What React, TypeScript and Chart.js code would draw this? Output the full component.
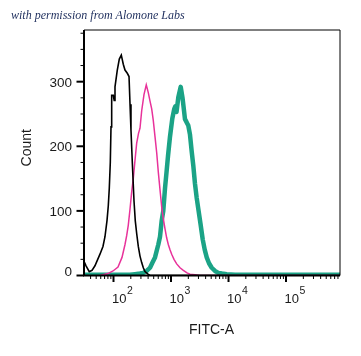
import React, { useEffect, useRef } from "react";
import { Chart, registerables } from "chart.js";

Chart.register(...registerables);

// ---- data ----
const X_MIN = 30.7;
const X_MAX = 868000;
const Y_MIN = 0;
const Y_MAX = 380;
const Y_TICK_STEP = 25;
const Y_LABELS = [0, 100, 200, 300];
const X_DECADES = [2, 3, 4, 5];

const blackX = [30.7, 33.3, 37.9, 42.3, 47.6, 58.2, 65.6, 71.1, 77.1, 81.2, 84.5, 88.0, 90.5, 93.0, 99.2, 102.8, 106.2, 116.4, 126.2, 136.7, 148.0, 158.5, 173.8, 186.2, 193.8, 201.4, 212.4, 227.5, 239, 253, 270, 289, 309, 330, 353, 398, 431.5, 868000];
const blackY = [22, 15, 6, 8, 15, 33, 45, 60, 85, 108, 135, 175, 230, 279, 279, 271, 292, 318, 335, 341, 327, 318, 313, 308, 265, 225, 175, 115, 85, 65, 45, 30, 20, 12, 6, 2, 0, 0];

const pinkX = [58.2, 80.2, 98.0, 119.8, 140.6, 158.5, 169.8, 180.9, 193.8, 207.5, 220.8, 236.4, 253, 272.2, 289, 309.2, 339, 371.5, 402.7, 431.5, 461.6, 491.7, 526.9, 564, 601.6, 643.6, 689, 734.6, 786.6, 841.7, 897.4, 961, 1028, 1127, 1256, 1435, 1638, 1897, 2139, 2612, 3191, 868000];
const pinkY = [0, 3, 7, 13, 28, 48, 62, 78, 103, 130, 150, 178, 205, 220, 228, 255, 280, 295, 283, 270, 258, 240, 215, 190, 160, 133, 106, 88, 72, 58, 48, 40, 33, 25, 18, 12, 8, 4, 2, 1, 0, 0];

const greenX = [30.7, 58.2, 129.7, 193.8, 236.4, 289, 329.7, 377.6, 431.5, 476.6, 526.9, 601.6, 643.6, 689, 734.6, 786.6, 836, 887, 961, 1054, 1141, 1188, 1247, 1340, 1475, 1585, 1649, 1750, 1874, 1999, 2139, 2290, 2443, 2612, 2798, 2985, 3259, 3558, 3856, 4178, 4581, 5105, 5823, 6647, 7712, 9311, 12970, 868000];
const greenY = [1, 1, 1, 1, 2, 3, 4, 7, 12, 20, 28, 48, 60, 85, 100, 135, 160, 185, 215, 243, 258, 262, 253, 276, 292, 275, 262, 242, 237, 232, 218, 192, 170, 142, 120, 103, 80, 56, 40, 28, 19, 12, 7, 4, 3, 2, 1, 1];

const TITLE = "with permission from Alomone Labs";
const X_TITLE = "FITC-A";
const Y_TITLE = "Count";

const toPoints = (xs: number[], ys: number[]) => xs.map((x, i) => ({ x, y: ys[i] }));

const SANS = '"Liberation Sans", Arial, sans-serif';
const TEXT = "#1a1a1a";

const decorPlugin = {
  id: "decor",
  afterDraw(chart: any) {
    const { ctx, chartArea: a, scales } = chart;
    const xs = scales.x;
    const ys = scales.y;
    ctx.save();
    ctx.strokeStyle = "#000";

    // frame: thin top/right, heavier left/bottom
    ctx.lineWidth = 1;
    ctx.beginPath();
    ctx.moveTo(a.left, a.top);
    ctx.lineTo(a.right, a.top);
    ctx.lineTo(a.right, a.bottom);
    ctx.stroke();
    ctx.lineWidth = 2;
    ctx.beginPath();
    ctx.moveTo(a.left, a.top);
    ctx.lineTo(a.left, a.bottom);
    ctx.lineTo(a.right, a.bottom);
    ctx.stroke();

    // y ticks
    for (let v = Y_MIN; v <= Y_MAX; v += Y_TICK_STEP) {
      const y = ys.getPixelForValue(v);
      const major = v % 100 === 0;
      ctx.lineWidth = major ? 2 : 1;
      ctx.beginPath();
      ctx.moveTo(a.left - (major ? 7.5 : 3.5), y);
      ctx.lineTo(a.left, y);
      ctx.stroke();
    }
    ctx.fillStyle = TEXT;
    ctx.font = `13.5px ${SANS}`;
    ctx.textAlign = "right";
    ctx.textBaseline = "alphabetic";
    for (const v of Y_LABELS) {
      const y = ys.getPixelForValue(v);
      const base = Math.min(y + 4.9, a.bottom);
      ctx.fillText(String(v), a.left - 12, base);
    }

    // x ticks (log)
    for (let n = 1; n <= 6; n++) {
      for (let k = 1; k <= 9; k++) {
        const v = k * Math.pow(10, n);
        if (v < X_MIN || v > X_MAX) continue;
        const x = xs.getPixelForValue(v);
        const major = k === 1;
        ctx.lineWidth = major ? 2 : 1;
        ctx.beginPath();
        ctx.moveTo(x, a.bottom);
        ctx.lineTo(x, a.bottom + (major ? 6.5 : 3.5));
        ctx.stroke();
      }
    }
    ctx.textAlign = "left";
    for (const d of X_DECADES) {
      const x = xs.getPixelForValue(Math.pow(10, d));
      ctx.font = `13px ${SANS}`;
      const base = "10";
      ctx.fillText(base, x - 1.5, a.bottom + 27.5);
      const w = ctx.measureText(base).width;
      ctx.font = `10.5px ${SANS}`;
      ctx.fillText(String(d), x - 1.5 + w + 0.5, a.bottom + 18.5);
    }

    // axis titles
    ctx.font = `14px ${SANS}`;
    ctx.textAlign = "center";
    ctx.fillText(X_TITLE, (a.left + a.right) / 2 - 0.5, a.bottom + 58.5);
    ctx.save();
    ctx.translate(27, (a.top + a.bottom) / 2 - 5);
    ctx.rotate(-Math.PI / 2);
    ctx.textBaseline = "middle";
    ctx.fillText(Y_TITLE, 0, 0);
    ctx.restore();

    // watermark title
    ctx.font = `italic 12px "Liberation Serif", "DejaVu Serif", serif`;
    ctx.fillStyle = "#1d2d5c";
    ctx.textAlign = "left";
    ctx.textBaseline = "alphabetic";
    ctx.fillText(TITLE, 11, 18.5);

    ctx.restore();
  },
};

export default function App() {
  const ref = useRef<HTMLCanvasElement | null>(null);
  useEffect(() => {
    if (!ref.current) return;
    const chart = new Chart(ref.current, {
      type: "line",
      data: {
        datasets: [
          {
            data: toPoints(blackX, blackY),
            borderColor: "#000000",
            borderWidth: 1.6,
            pointRadius: 0,
            tension: 0,
            order: 1,
          },
          {
            data: toPoints(pinkX, pinkY),
            borderColor: "#e8329a",
            borderWidth: 1.5,
            pointRadius: 0,
            tension: 0,
            order: 2,
          },
          {
            data: toPoints(greenX, greenY),
            borderColor: "#1ba386",
            borderWidth: 4.5,
            borderJoinStyle: "round",
            borderCapStyle: "round",
            pointRadius: 0,
            tension: 0,
            order: 3,
          },
        ],
      },
      options: {
        responsive: false,
        animation: false,
        parsing: true,
        layout: { padding: { left: 84, right: 21, top: 30, bottom: 80.5 } },
        scales: {
          x: { type: "logarithmic", min: X_MIN, max: X_MAX, display: false },
          y: { type: "linear", min: Y_MIN, max: Y_MAX, display: false },
        },
        plugins: { legend: { display: false }, tooltip: { enabled: false } },
      },
      plugins: [decorPlugin],
    });
    return () => chart.destroy();
  }, []);
  return (
    <div style={{ position: "absolute", left: 0, top: 0, width: 361, height: 356, background: "#fff" }}>
      <canvas ref={ref} width={361} height={356} style={{ display: "block" }} />
    </div>
  );
}
